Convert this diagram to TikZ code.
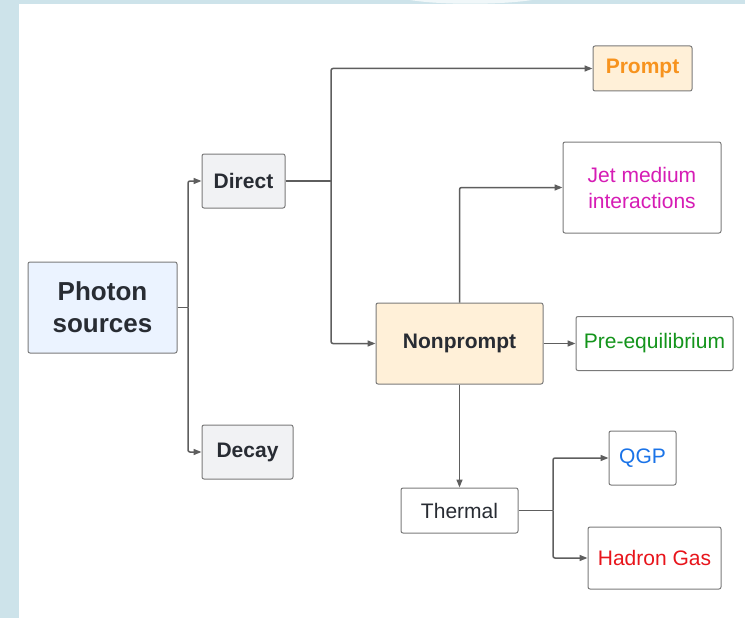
\documentclass[tikz,border=0pt]{standalone}
\usepackage{fontspec}
\setmainfont{Liberation Sans}
\usetikzlibrary{arrows.meta}
\definecolor{bgblue}{HTML}{CDE3EA}
\definecolor{txt}{HTML}{282C33}
\definecolor{edge}{HTML}{7A7A7A}
\definecolor{conncol}{HTML}{5E5E5E}
\definecolor{fillblue}{HTML}{EBF3FF}
\definecolor{fillgray}{HTML}{F1F2F4}
\definecolor{fillorange}{HTML}{FFF0D8}
\definecolor{corange}{HTML}{F7931E}
\definecolor{cmagenta}{HTML}{D61CB5}
\definecolor{cgreen}{HTML}{13941B}
\definecolor{cblue}{HTML}{1A73E8}
\definecolor{cred}{HTML}{E8141B}
\tikzset{
  box/.style={draw=edge, line width=1pt, rounded corners=2pt, align=center, inner sep=0pt,
    text=txt, font=\fontsize{21}{26}\selectfont, fill=white},
  boldbox/.style={box, font=\fontsize{21}{26}\selectfont\bfseries},
  conn/.style={draw=conncol, line width=1.5pt, rounded corners=2pt,
    -{Triangle[length=8pt,width=6pt]}},
  plain/.style={draw=conncol, line width=1.5pt, rounded corners=2pt}
}
\begin{document}
\begin{tikzpicture}[x=1pt,y=-1pt]
\useasboundingbox (0,0) rectangle (745,618);
\fill[bgblue] (0,0) rectangle (745,618);
\fill[white] (19,4) rectangle (745,618);
\fill[white!70!bgblue] (410,0) .. controls (440,5) and (500,5) .. (532,0) -- cycle;

\node[boldbox, fill=fillblue, minimum width=149pt, minimum height=91pt,
  font=\fontsize{26}{32}\selectfont\bfseries] (photon) at (102.5,307.5) {Photon\\sources};
\node[boldbox, fill=fillgray, minimum width=83pt, minimum height=54pt] (direct) at (243.5,181) {Direct};
\node[boldbox, fill=fillgray, minimum width=91pt, minimum height=54pt] (decay) at (247.5,452) {Decay};
\node[boldbox, fill=fillorange, text=corange, minimum width=99pt, minimum height=45pt] (prompt) at (642.5,68.5) {Prompt};
\node[box, text=cmagenta, minimum width=158pt, minimum height=91pt] (jet) at (642,187.5) {Jet medium\\interactions};
\node[boldbox, fill=fillorange, minimum width=167pt, minimum height=81pt] (nonprompt) at (459.5,343.5) {Nonprompt};
\node[box, text=cgreen, minimum width=157pt, minimum height=54pt] (preeq) at (654.5,343.5) {Pre-equilibrium};
\node[box, minimum width=117pt, minimum height=45pt] (thermal) at (459.5,510.5) {Thermal};
\node[box, text=cblue, minimum width=67pt, minimum height=54pt] (qgp) at (642.5,458) {QGP};
\node[box, text=cred, minimum width=133pt, minimum height=62pt] (hadron) at (654.5,558) {Hadron Gas};

\coordinate (j1) at (188,307.5);
\coordinate (j2) at (331,181);
\coordinate (j3) at (553,510.5);

\draw[plain] (photon.east) -- (j1);
\draw[conn] (j1) |- (direct.west);
\draw[conn] (j1) |- (decay.west);
\draw[plain] (direct.east) -- (j2);
\draw[conn] (j2) |- (prompt.west);
\draw[conn] (j2) |- (nonprompt.west);
\draw[conn] (nonprompt.north) |- (jet.west);
\draw[conn] (nonprompt.east) -- (preeq.west);
\draw[conn] (nonprompt.south) -- (thermal.north);
\draw[plain] (thermal.east) -- (j3);
\draw[conn] (j3) |- (qgp.west);
\draw[conn] (j3) |- (hadron.west);
\end{tikzpicture}
\end{document}
